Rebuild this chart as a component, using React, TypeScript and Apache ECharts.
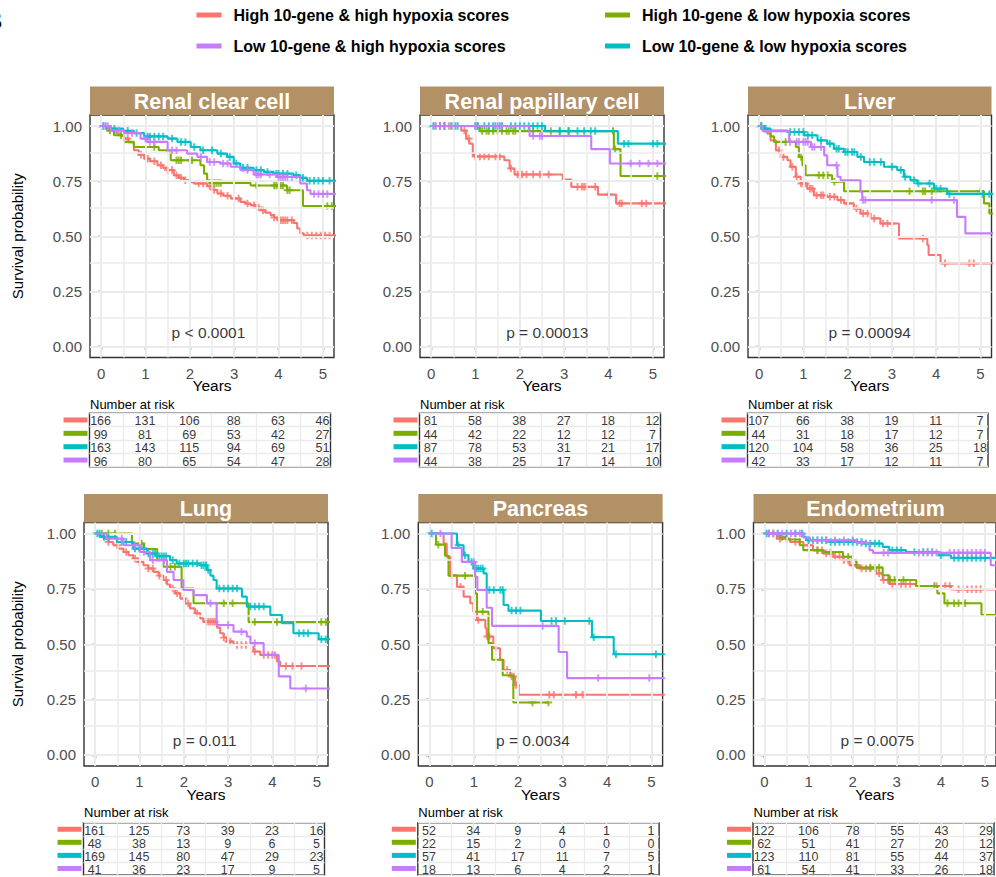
import React, { useEffect, useRef } from 'react';
import * as echarts from 'echarts';

const FONT = '"Liberation Sans", Arial, Helvetica, sans-serif';

// ---------- legend / groups ----------
const GROUPS = [
  'High 10-gene & high hypoxia scores',
  'High 10-gene & low hypoxia scores',
  'Low 10-gene & low hypoxia scores',
  'Low 10-gene & high hypoxia scores',
];
const COLORS = ['#F8766D', '#7CAE00', '#00BFC4', '#C77CFF'];
const TITLES = ['Renal clear cell', 'Renal papillary cell', 'Liver', 'Lung', 'Pancreas', 'Endometrium'];
const P_LABELS = ['p < 0.0001', 'p = 0.00013', 'p = 0.00094', 'p = 0.011', 'p = 0.0034', 'p = 0.0075'];
const P_YEARS = [2.42, 2.62, 2.5, 2.47, 2.33, 2.56];
const P_SURV = [0.063, 0.063, 0.063, 0.063, 0.063, 0.063];
const YEAR_TICKS = [0, 1, 2, 3, 4, 5];
const SURV_TICKS = [0, 0.25, 0.5, 0.75, 1];
const YEAR_MINOR = [0.5, 1.5, 2.5, 3.5, 4.5];
const SURV_MINOR = [0.125, 0.375, 0.625, 0.875];

// ---------- Renal clear cell ----------
const rccHH = [[0,1],[0.12,0.99],[0.22,0.98],[0.35,0.965],[0.45,0.955],[0.52,0.943],[0.62,0.925],[0.74,0.89],[0.85,0.87],[0.97,0.852],[1.1,0.84],[1.27,0.822],[1.4,0.81],[1.5,0.8],[1.64,0.777],[1.75,0.765],[1.87,0.754],[2.0,0.745],[2.09,0.739],[2.39,0.727],[2.5,0.71],[2.62,0.694],[2.75,0.684],[2.92,0.671],[3.14,0.656],[3.25,0.648],[3.37,0.641],[3.5,0.63],[3.6,0.618],[3.7,0.607],[3.82,0.596],[3.9,0.585],[3.97,0.573],[4.34,0.56],[4.42,0.535],[4.49,0.513],[4.57,0.503],[5.3,0.503]];
const rccHL = [[0,1],[0.14,0.98],[0.29,0.958],[0.52,0.928],[0.74,0.905],[1.3,0.89],[1.5,0.88],[1.57,0.845],[2.24,0.822],[2.32,0.784],[2.39,0.754],[2.45,0.742],[3.37,0.73],[4.19,0.709],[4.55,0.637],[5.3,0.637]];
const rccLL = [[0,1],[0.22,0.988],[0.5,0.978],[0.74,0.968],[0.97,0.953],[1.5,0.943],[1.72,0.928],[2.02,0.905],[2.24,0.89],[2.62,0.875],[2.84,0.86],[2.99,0.83],[3.14,0.811],[3.44,0.8],[3.67,0.792],[3.89,0.784],[4.34,0.777],[4.49,0.765],[4.64,0.752],[5.3,0.752]];
const rccLH = [[0,1],[0.22,0.98],[0.52,0.968],[0.89,0.943],[1.04,0.928],[1.5,0.89],[1.94,0.875],[2.17,0.86],[2.39,0.837],[2.69,0.83],[2.92,0.815],[3.14,0.8],[3.44,0.78],[3.97,0.769],[4.49,0.739],[4.64,0.709],[4.72,0.692],[5.3,0.692]];
const rccHHc = [0.3,0.6,0.9,1.05,1.2,1.35,1.5,1.6,1.7,1.8,1.9,2.2,2.3,2.45,2.55,2.7,2.85,3.0,3.1,3.3,3.45,3.55,3.65,3.9,4.05,4.1,4.15,4.2,4.3,4.65,4.75,4.85,4.95,5.05,5.15];
const rccHLc = [0.2,0.45,1.2,1.7,1.75,1.8,2.0,2.05,2.5,2.55,2.6,2.65,2.7,3.0,3.5,3.9,3.95,4.0,4.05,4.1,4.2,4.25,5.0,5.1,5.2];
const rccLLc = [0.05,0.1,0.3,0.6,0.8,1.05,1.1,1.2,1.3,1.4,1.6,1.8,1.9,2.1,2.3,2.5,2.7,2.9,3.05,3.2,3.3,3.5,3.6,3.75,3.95,4.0,4.1,4.2,4.4,4.55,4.7,4.8,4.9,5.0,5.15];
const rccLHc = [0.05,0.15,0.4,0.7,1.0,1.1,1.2,1.6,1.7,2.25,2.45,2.55,2.75,2.85,3.3,3.5,3.55,3.6,3.8,4.0,4.05,4.1,4.15,4.2,4.3,4.8,4.9,5.0,5.1];
const rccRisk = [[166,131,106,88,63,46],[99,81,69,53,42,27],[163,143,115,94,69,51],[96,80,65,54,47,28]];

// ---------- Renal papillary cell ----------
const rpcHH = [[0,1],[0.68,0.98],[0.79,0.943],[0.86,0.92],[0.94,0.867],[0.98,0.862],[1.65,0.845],[1.77,0.807],[1.88,0.78],[2.97,0.757],[3.16,0.724],[3.76,0.689],[4.17,0.649],[5.3,0.649]];
const rpcHL = [[0,1],[1.1,0.977],[4.12,0.895],[4.27,0.773],[5.3,0.773]];
const rpcLL = [[0,1],[2.57,0.977],[4.21,0.92],[5.3,0.92]];
const rpcLH = [[0,1],[2.22,0.955],[3.61,0.895],[4.03,0.83],[5.3,0.83]];
const rpcHHc = [0.2,0.4,0.5,0.75,0.85,1.0,1.1,1.2,1.3,1.45,1.55,1.8,1.95,2.0,2.05,2.15,2.3,2.45,2.65,3.3,3.4,3.45,3.5,3.7,4.0,4.25,4.3,4.75,4.85];
const rpcHLc = [0.1,0.3,1.05,1.15,1.25,1.3,1.4,1.5,1.6,1.7,1.75,1.85,1.9,2.0,2.3,2.5,2.7,2.9,3.1,4.1,4.15,5.1];
const rpcLLc = [0.05,0.2,0.3,0.45,0.55,0.6,1.0,1.05,1.2,1.3,1.4,1.45,1.55,1.6,1.8,1.9,2.0,2.1,2.2,2.3,2.4,2.5,2.9,3.1,3.3,3.45,3.6,3.7,4.35,4.45,5.0,5.1];
const rpcLHc = [0.1,0.2,0.3,1.0,1.5,1.6,2.3,2.45,2.5,4.5,4.7,4.9,5.1];
const rpcRisk = [[81,58,38,27,18,12],[44,42,22,12,12,7],[87,78,53,31,21,17],[44,38,25,17,14,10]];

// ---------- Liver ----------
const livHH = [[0,1],[0.08,0.988],[0.19,0.965],[0.26,0.935],[0.38,0.89],[0.49,0.86],[0.64,0.845],[0.71,0.815],[0.83,0.77],[0.94,0.739],[1.09,0.716],[1.24,0.686],[1.54,0.679],[1.77,0.664],[1.92,0.649],[2.14,0.626],[2.29,0.603],[2.52,0.581],[2.74,0.558],[3.16,0.49],[3.8,0.46],[3.83,0.415],[4.1,0.377],[5.3,0.377]];
const livHL = [[0,1],[0.11,0.977],[0.26,0.953],[0.34,0.928],[0.83,0.905],[0.9,0.86],[0.98,0.822],[1.05,0.777],[1.65,0.747],[1.92,0.704],[5.08,0.649],[5.2,0.603],[5.3,0.603]];
const livLL = [[0,1],[0.11,0.988],[0.26,0.98],[0.64,0.973],[1.02,0.958],[1.32,0.935],[1.54,0.92],[1.69,0.897],[1.92,0.882],[2.22,0.86],[2.37,0.837],[2.82,0.815],[3.12,0.8],[3.27,0.77],[3.42,0.754],[3.57,0.739],[3.95,0.716],[4.25,0.692],[5.3,0.692]];
const livLH = [[0,1],[0.08,0.977],[0.68,0.928],[1.17,0.905],[1.47,0.867],[1.54,0.822],[1.77,0.77],[1.84,0.754],[2.29,0.701],[2.33,0.664],[4.47,0.588],[4.66,0.513],[5.3,0.513]];
const livHHc = [0.45,0.55,0.75,0.85,0.95,1.0,1.05,1.15,1.2,1.3,1.4,1.45,1.6,1.7,1.85,2.0,2.2,2.35,2.45,2.6,2.8,2.9,3.0,3.7,4.2,4.75,4.85];
const livHLc = [0.05,0.6,0.95,1.35,1.45,1.55,1.7,3.4,3.7,3.75,3.9,4.0,5.0];
const livLLc = [0.05,0.15,0.7,0.8,0.9,1.0,1.1,1.2,1.4,1.6,1.75,1.8,1.95,2.0,2.1,2.15,2.3,2.5,2.6,2.75,3.0,3.2,3.3,3.5,3.6,3.85,4.0,4.1,4.3,5.05,5.2];
const livLHc = [0.7,0.85,0.9,1.0,1.05,1.1,1.2,1.25,1.4,1.75,2.35,2.4,3.9,4.4];
const livRisk = [[107,66,38,19,11,7],[44,31,18,17,12,7],[120,104,58,36,25,18],[42,33,17,12,11,7]];

// ---------- Lung ----------
const lunHH = [[0,1],[0.1,0.99],[0.19,0.977],[0.3,0.962],[0.41,0.947],[0.52,0.932],[0.64,0.917],[0.75,0.902],[0.86,0.887],[0.97,0.872],[1.09,0.857],[1.2,0.842],[1.32,0.827],[1.43,0.81],[1.54,0.79],[1.62,0.77],[1.69,0.752],[1.8,0.73],[1.92,0.707],[2.03,0.684],[2.14,0.662],[2.25,0.64],[2.37,0.617],[2.44,0.602],[2.75,0.575],[2.82,0.55],[2.9,0.53],[2.97,0.512],[3.12,0.497],[3.57,0.467],[3.72,0.452],[4.1,0.422],[4.17,0.402],[5.3,0.402]];
const lunHL = [[0,1],[0.83,0.955],[1.1,0.93],[1.4,0.88],[1.54,0.85],[1.95,0.752],[2.22,0.685],[3.46,0.6],[5.3,0.6]];
const lunLL = [[0,1],[0.11,0.985],[0.49,0.962],[0.86,0.932],[1.17,0.91],[1.39,0.898],[1.69,0.88],[1.84,0.865],[2.37,0.857],[2.52,0.835],[2.6,0.81],[2.67,0.79],[2.74,0.752],[3.31,0.715],[3.42,0.67],[3.95,0.632],[4.21,0.595],[4.47,0.55],[5.04,0.523],[5.3,0.523]];
const lunLH = [[0,1],[0.26,0.977],[0.64,0.947],[1.02,0.917],[1.24,0.88],[1.62,0.827],[1.77,0.79],[1.99,0.745],[2.22,0.722],[2.52,0.685],[2.74,0.587],[3.12,0.557],[3.42,0.535],[3.5,0.505],[3.8,0.452],[4.14,0.355],[4.4,0.3],[5.3,0.3]];
const lunHHc = [0.3,0.5,0.7,0.9,1.0,1.2,1.3,1.45,1.6,1.75,1.85,2.0,2.1,2.3,2.5,2.55,2.6,2.65,2.7,2.9,3.0,3.05,3.2,3.3,3.4,3.6,3.8,3.9,4.0,4.05,4.3,4.45,4.65];
const lunHLc = [0.15,0.3,0.45,1.05,1.7,1.8,2.9,3.0,3.1,3.6,4.1,5.1,5.2];
const lunLLc = [0.05,0.1,0.2,0.3,0.6,0.7,0.9,1.0,1.1,1.2,1.3,1.35,1.45,1.5,1.55,1.6,1.75,1.9,2.0,2.05,2.1,2.2,2.3,2.4,2.45,2.5,2.55,2.8,2.9,3.0,3.1,3.2,3.5,3.6,3.7,3.8,4.6,4.7,4.8,5.1,5.2];
const lunLHc = [0.6,0.9,1.1,1.3,1.55,2.6,3.0,3.3,3.6,4.0,4.75];
const lunRisk = [[161,125,73,39,23,16],[48,38,13,9,6,5],[169,145,80,47,29,23],[41,36,23,17,9,5]];

// ---------- Pancreas ----------
const panHH = [[0,1],[0.32,0.955],[0.39,0.895],[0.47,0.812],[0.62,0.76],[0.77,0.715],[0.92,0.685],[0.99,0.647],[1.07,0.61],[1.26,0.572],[1.29,0.535],[1.44,0.482],[1.59,0.43],[1.67,0.384],[1.82,0.354],[1.93,0.316],[2.01,0.272],[5.3,0.272]];
const panHL = [[0,1],[0.15,0.95],[0.35,0.9],[0.43,0.81],[1.03,0.73],[1.07,0.647],[1.33,0.505],[1.41,0.43],[1.65,0.36],[1.89,0.237],[2.68,0.237]];
const panLL = [[0,1],[0.62,0.947],[0.77,0.902],[0.88,0.872],[0.99,0.842],[1.22,0.82],[1.29,0.745],[1.67,0.677],[1.78,0.652],[2.51,0.605],[3.66,0.532],[4.15,0.455],[5.3,0.455]];
const panLH = [[0,1],[0.5,0.935],[0.73,0.872],[1.03,0.805],[1.08,0.745],[1.29,0.665],[1.41,0.583],[2.91,0.465],[3.1,0.347],[5.3,0.347]];
const panHHc = [0.5,0.7,1.1,1.3,1.35,1.5,1.75,1.85,1.9,1.95,2.7,2.8,3.0,3.3,3.45];
const panHLc = [0.2,0.8,1.2,2.32,2.68];
const panLLc = [0.05,0.65,0.8,0.95,1.05,1.1,1.15,1.2,1.35,1.45,1.6,1.65,1.85,1.95,2.05,2.75,2.85,3.05,3.6,3.7,4.2,5.1];
const panLHc = [0.25,1.0,2.55,3.8,4.95];
const panRisk = [[52,34,9,4,1,1],[22,15,2,0,0,0],[57,41,17,11,7,5],[18,13,6,4,2,1]];

// ---------- Endometrium ----------
const endHH = [[0,1],[0.28,0.977],[0.58,0.962],[0.88,0.947],[1.1,0.925],[1.33,0.91],[1.56,0.895],[1.78,0.88],[1.93,0.857],[2.16,0.842],[2.53,0.82],[2.68,0.79],[2.83,0.772],[3.43,0.763],[4.23,0.748],[5.3,0.748]];
const endHL = [[0,1],[0.35,0.985],[0.5,0.973],[0.8,0.947],[0.88,0.925],[1.33,0.917],[1.78,0.895],[2.0,0.88],[2.08,0.847],[2.68,0.812],[2.83,0.79],[3.44,0.763],[3.92,0.73],[4.08,0.685],[4.92,0.632],[5.3,0.632]];
const endLL = [[0,1],[0.88,0.985],[0.95,0.97],[1.48,0.962],[2.23,0.955],[2.68,0.94],[2.83,0.925],[3.21,0.917],[3.96,0.902],[4.23,0.89],[5.3,0.89]];
const endLH = [[0,1],[0.88,0.982],[1.03,0.97],[2.08,0.958],[2.38,0.925],[2.46,0.913],[5.13,0.857],[5.3,0.857]];
const endHHc = [0.35,0.5,0.7,0.8,1.0,1.2,1.3,1.4,1.5,1.6,1.7,1.8,1.9,2.0,2.1,2.2,2.3,2.4,2.6,2.7,2.8,2.9,3.0,3.1,3.2,3.3,3.9,4.1,4.2,4.4,4.5,4.6,4.7,4.8,4.9];
const endHLc = [0.2,0.4,1.2,1.5,1.9,2.0,2.4,2.5,2.6,2.85,2.95,3.15,3.85,4.15,4.3,4.4,4.55];
const endLLc = [0.05,0.1,0.3,0.5,0.7,0.85,1.0,1.1,1.2,1.3,1.4,1.5,1.6,1.7,1.8,1.9,2.0,2.1,2.2,2.3,2.4,2.5,2.6,2.9,3.0,3.1,3.4,3.6,3.7,3.8,4.0,4.3,4.4,4.5,4.6,4.7,4.8,4.9,5.0];
const endLHc = [0.1,0.2,0.3,0.4,0.6,0.7,0.8,1.2,1.4,1.6,1.8,2.0,2.2,2.7,2.8,3.5,3.6,3.7,3.8,3.9,4.2,4.3,4.4,4.5,4.6,4.7,4.8,4.9,5.0];
const endRisk = [[122,106,78,55,43,29],[62,51,41,27,20,12],[123,110,81,55,44,37],[61,54,41,33,26,18]];

const CURVES = [
  [rccHH, rccHL, rccLL, rccLH],
  [rpcHH, rpcHL, rpcLL, rpcLH],
  [livHH, livHL, livLL, livLH],
  [lunHH, lunHL, lunLL, lunLH],
  [panHH, panHL, panLL, panLH],
  [endHH, endHL, endLL, endLH],
];
const CENSORS = [
  [rccHHc, rccHLc, rccLLc, rccLHc],
  [rpcHHc, rpcHLc, rpcLLc, rpcLHc],
  [livHHc, livHLc, livLLc, livLHc],
  [lunHHc, lunHLc, lunLLc, lunLHc],
  [panHHc, panHLc, panLLc, panLHc],
  [endHHc, endHLc, endLLc, endLHc],
];
const RISKS = [rccRisk, rpcRisk, livRisk, lunRisk, panRisk, endRisk];

// ---------- layout (pixels) ----------
const LAYOUT = [
  { left: 90, top: 115, width: 244, height: 242.5, tTop: 413.3, tH: 53.4, narY: 404 },
  { left: 420, top: 115, width: 244, height: 242.5, tTop: 413.3, tH: 53.4, narY: 404 },
  { left: 748, top: 115, width: 243.5, height: 242.5, tTop: 413.3, tH: 53.4, narY: 404 },
  { left: 84, top: 522.5, width: 244, height: 243.5, tTop: 822.7, tH: 52.3, narY: 812.7 },
  { left: 418.3, top: 522.5, width: 244.3, height: 243.5, tTop: 822.7, tH: 52.3, narY: 812.7 },
  { left: 753.5, top: 522.5, width: 244, height: 243.5, tTop: 822.7, tH: 52.3, narY: 812.7 },
];
const STRIP_H = 28.5;
const STRIP_COLOR = '#B39166';
const PLUS = 'path://M3.7,0H6.3V3.7H10V6.3H6.3V10H3.7V6.3H0V3.7H3.7Z';

function survAt(steps: number[][], t: number) {
  let s = steps[0][1];
  for (const p of steps) {
    if (p[0] <= t) s = p[1];
    else break;
  }
  return s;
}

function buildOption() {
  const grid: any[] = [];
  const xAxis: any[] = [];
  const yAxis: any[] = [];
  const series: any[] = [];
  const graphic: any[] = [];
  const axisText = { fontSize: 15, color: '#4D4D4D', fontFamily: FONT };

  // plot grids 0..5
  LAYOUT.forEach((L, i) => {
    grid.push({
      left: L.left, top: L.top, width: L.width, height: L.height,
      show: true, borderColor: '#333333', borderWidth: 1.4, backgroundColor: '#ffffff',
    });
    xAxis.push({
      gridIndex: i, type: 'value', min: -0.25, max: 5.25,
      axisLine: { show: false },
      axisTick: { show: true, customValues: YEAR_TICKS, length: 3.5, lineStyle: { color: '#333333', width: 1.4 } },
      axisLabel: { show: true, customValues: YEAR_TICKS, margin: 8, ...axisText },
      splitLine: { show: false },
      name: 'Years', nameLocation: 'middle', nameGap: 20, nameMoveOverlap: false,
      nameTextStyle: { fontSize: 15.5, color: '#000000', fontFamily: FONT },
    });
    yAxis.push({
      gridIndex: i, type: 'value', min: -0.05, max: 1.05,
      axisLine: { show: false },
      axisTick: { show: true, customValues: SURV_TICKS, length: 3.5, lineStyle: { color: '#333333', width: 1.4 } },
      axisLabel: { show: true, customValues: SURV_TICKS, margin: 8, formatter: (v: number) => v.toFixed(2), ...axisText },
      splitLine: { show: false },
      name: i % 3 === 0 ? 'Survival probability' : '',
      nameLocation: 'middle', nameGap: i === 0 ? 65 : 59, nameMoveOverlap: false,
      nameTextStyle: { fontSize: 15, color: '#000000', fontFamily: FONT },
    });
  });
  // table grids 6..11
  LAYOUT.forEach((L, i) => {
    grid.push({
      left: L.left - 0.5, top: L.tTop, width: L.width - 3, height: L.tH,
      show: true, borderColor: '#333333', borderWidth: 1.4, backgroundColor: '#ffffff',
    });
    xAxis.push({
      gridIndex: 6 + i, type: 'value', min: -0.25, max: -0.25 + ((L.width - 3) / L.width) * 5.5,
      axisLine: { show: false }, axisTick: { show: false }, axisLabel: { show: false }, splitLine: { show: false },
    });
    const rich: any = {};
    COLORS.forEach((c, g) => { rich['c' + g] = { backgroundColor: c, width: 24, height: 5, lineHeight: 5 }; });
    yAxis.push({
      gridIndex: 6 + i, type: 'category', inverse: true, data: GROUPS,
      axisLine: { show: false }, axisTick: { show: false },
      axisLabel: { show: true, interval: 0, margin: 2, formatter: (_v: string, idx: number) => `{c${idx}| }`, rich },
      splitLine: { show: true, interval: 0, lineStyle: { color: '#EBEBEB', width: 1.3 } },
    });
  });

  const gridLineData = (minorW: number, majorW: number, withY: boolean) => {
    const d: any[] = [];
    if (withY) {
      SURV_MINOR.forEach((v) => d.push({ yAxis: v, lineStyle: { width: minorW } }));
      SURV_TICKS.forEach((v) => d.push({ yAxis: v, lineStyle: { width: majorW } }));
    }
    YEAR_MINOR.forEach((v) => d.push({ xAxis: v, lineStyle: { width: minorW } }));
    YEAR_TICKS.forEach((v) => d.push({ xAxis: v, lineStyle: { width: majorW } }));
    return d;
  };

  CURVES.forEach((curves, i) => {
    // grid lines of the panel
    series.push({
      type: 'line', xAxisIndex: i, yAxisIndex: i, data: [], silent: true, z: 1,
      markLine: {
        silent: true, symbol: ['none', 'none'], label: { show: false }, animation: false,
        lineStyle: { color: '#EBEBEB', type: 'solid', width: 1.6 },
        data: gridLineData(1.5, 2, true),
      },
    });
    curves.forEach((steps, g) => {
      series.push({
        type: 'line', name: GROUPS[g], xAxisIndex: i, yAxisIndex: i,
        data: steps, step: 'end', showSymbol: false, symbol: 'none', silent: true,
        lineStyle: { color: COLORS[g], width: 2.1 }, itemStyle: { color: COLORS[g] },
        z: 3 + g, clip: true,
      });
    });
    curves.forEach((steps, g) => {
      series.push({
        type: 'scatter', name: GROUPS[g] + ' (censored)', xAxisIndex: i, yAxisIndex: i,
        data: CENSORS[i][g].map((t) => [t, survAt(steps, t)]),
        symbol: PLUS, symbolSize: 7.5, silent: true,
        itemStyle: { color: COLORS[g] }, z: 3 + g, clip: true,
      });
    });
    series.push({
      type: 'scatter', xAxisIndex: i, yAxisIndex: i, silent: true, z: 10,
      data: [[P_YEARS[i], P_SURV[i]]], symbolSize: 1,
      itemStyle: { color: 'rgba(0,0,0,0)' },
      label: { show: true, position: 'inside', formatter: P_LABELS[i], fontSize: 15.5, color: '#000000', fontFamily: FONT },
    });
    // risk table
    series.push({
      type: 'line', xAxisIndex: 6 + i, yAxisIndex: 6 + i, data: [], silent: true, z: 1,
      markLine: {
        silent: true, symbol: ['none', 'none'], label: { show: false }, animation: false,
        lineStyle: { color: '#EBEBEB', type: 'solid', width: 1.3 },
        data: gridLineData(1.3, 1.3, false),
      },
    });
    const cells: any[] = [];
    RISKS[i].forEach((row, g) => row.forEach((n, k) => cells.push([YEAR_TICKS[k], g, n])));
    series.push({
      type: 'scatter', xAxisIndex: 6 + i, yAxisIndex: 6 + i, silent: true, z: 10,
      data: cells, symbolSize: 1, itemStyle: { color: 'rgba(0,0,0,0)' },
      label: {
        show: true, position: 'inside', offset: [0, 1.5],
        formatter: (p: any) => String(p.data[2]), fontSize: 12.5, color: '#000000', fontFamily: FONT,
      },
    });
  });

  // strips, "Number at risk"
  LAYOUT.forEach((L, i) => {
    graphic.push({
      type: 'rect', silent: true, z: 20,
      shape: { x: L.left, y: L.top - STRIP_H, width: L.width, height: STRIP_H },
      style: { fill: STRIP_COLOR },
    });
    graphic.push({
      type: 'text', silent: true, z: 21,
      style: {
        text: TITLES[i], x: L.left + L.width / 2, y: L.top - STRIP_H / 2 + 1,
        align: 'center', verticalAlign: 'middle', fill: '#ffffff',
        font: `bold 21.5px ${FONT}`,
      },
    });
    graphic.push({
      type: 'text', silent: true, z: 21,
      style: {
        text: 'Number at risk', x: L.left, y: L.narY,
        align: 'left', verticalAlign: 'middle', fill: '#000000', font: `13px ${FONT}`,
      },
    });
  });
  graphic.push({
    type: 'text', silent: true, z: 21,
    style: { text: 'B', x: -15, y: 20, align: 'left', verticalAlign: 'middle', fill: '#000000', font: `bold 24px ${FONT}` },
  });

  const legendBase = {
    orient: 'vertical', top: 7, padding: 0, itemWidth: 25, itemHeight: 5, itemGap: 15,
    icon: 'rect', selectedMode: false,
    textStyle: { fontSize: 16, fontWeight: 'bold', color: '#000000', fontFamily: FONT, padding: [0, 0, 0, 7] },
  };

  return {
    animation: false,
    backgroundColor: '#ffffff',
    textStyle: { fontFamily: FONT },
    legend: [
      { ...legendBase, left: 196.5, data: [GROUPS[0], GROUPS[3]] },
      { ...legendBase, left: 605, data: [GROUPS[1], GROUPS[2]] },
    ],
    grid, xAxis, yAxis, series, graphic,
  };
}

export default function App() {
  const ref = useRef<HTMLDivElement>(null);
  useEffect(() => {
    document.body.style.margin = '0';
    if (!ref.current) return;
    const chart = echarts.init(ref.current, undefined, { renderer: 'svg' });
    chart.setOption(buildOption() as any);
    return () => chart.dispose();
  }, []);
  return <div ref={ref} style={{ width: 996, height: 877 }} />;
}
